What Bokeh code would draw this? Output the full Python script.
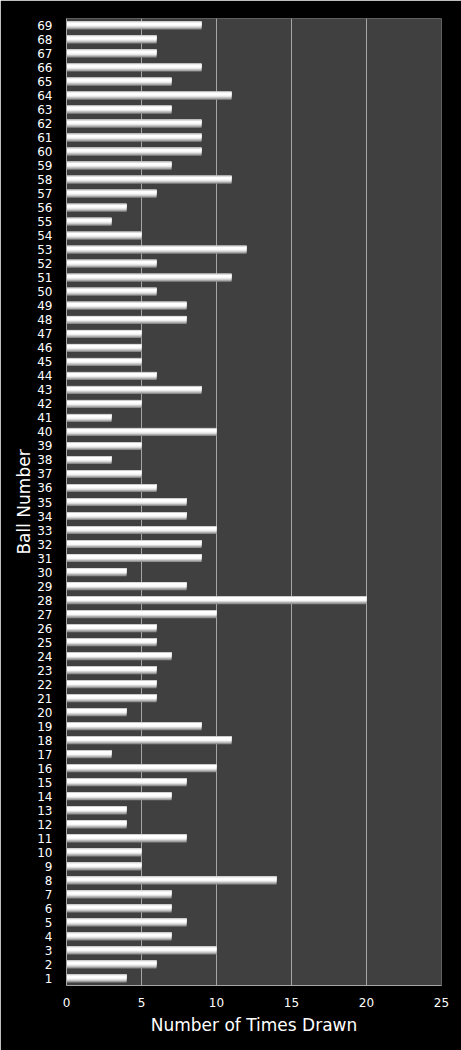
from bokeh.plotting import figure
from bokeh.models import ColumnDataSource, Range1d, FixedTicker
from bokeh.transform import dodge
from bokeh.embed import file_html
from bokeh.resources import INLINE

balls = list(range(1, 70))
times_drawn = [4, 6, 10, 7, 8, 7, 7, 14, 5, 5,
               8, 4, 4, 7, 8, 10, 3, 11, 9, 4,
               6, 6, 6, 7, 6, 6, 10, 20, 8, 4,
               9, 9, 10, 8, 8, 6, 5, 3, 5, 10,
               3, 5, 9, 6, 5, 5, 5, 8, 8, 6,
               11, 6, 12, 5, 3, 4, 6, 11, 7, 9,
               9, 9, 7, 11, 7, 9, 6, 6, 9]
x_ticks = [0, 5, 10, 15, 20, 25]

src = ColumnDataSource(data=dict(y=balls, v=times_drawn))

p = figure(width=461, height=1050, frame_width=375, frame_height=967,
           output_backend="svg", toolbar_location=None,
           x_range=Range1d(0, 25), y_range=Range1d(0.5, 69.5),
           min_border_left=66, min_border_right=20, min_border_top=18, min_border_bottom=65)

p.background_fill_color = "#404040"
p.border_fill_color = "black"
p.outline_line_color = None

# layered bars to imitate the shaded 3D look
layers = [
    (0.0, 0.58, "#8a8a8a"),
    (0.03, 0.50, "#b0b0b0"),
    (0.07, 0.42, "#d8d8d8"),
    (0.11, 0.34, "#f6f6f6"),
    (0.15, 0.24, "#ffffff"),
    (0.255, 0.05, "#bcbcbc"),
]
for off, h, col in layers:
    p.hbar(y=dodge("y", off, range=p.y_range), height=h, left=0, right="v",
           source=src, fill_color=col, line_color=None)

p.xaxis.ticker = FixedTicker(ticks=x_ticks)
p.yaxis.ticker = FixedTicker(ticks=balls)

p.xgrid.grid_line_color = "#a6a6a6"
p.xgrid.grid_line_width = 1
p.ygrid.grid_line_color = None

for ax in (p.xaxis, p.yaxis):
    ax.axis_line_color = "#a6a6a6"
    ax.major_tick_line_color = None
    ax.minor_tick_line_color = None
    ax.major_tick_out = 0
    ax.major_tick_in = 0
    ax.minor_tick_out = 0
    ax.major_label_text_color = "white"
    ax.major_label_text_font = "DejaVu Sans"
    ax.major_label_text_font_size = "12px"
    ax.axis_label_text_color = "white"
    ax.axis_label_text_font = "DejaVu Sans"
    ax.axis_label_text_font_size = "17px"
    ax.axis_label_text_font_style = "normal"

p.xaxis.axis_label = "Number of Times Drawn"
p.yaxis.axis_label = "Ball Number"
p.xaxis.major_label_standoff = 12
p.yaxis.major_label_standoff = 14
p.xaxis.axis_label_standoff = 5
p.yaxis.axis_label_standoff = 0

open("out.html", "w").write(file_html(p, INLINE))
